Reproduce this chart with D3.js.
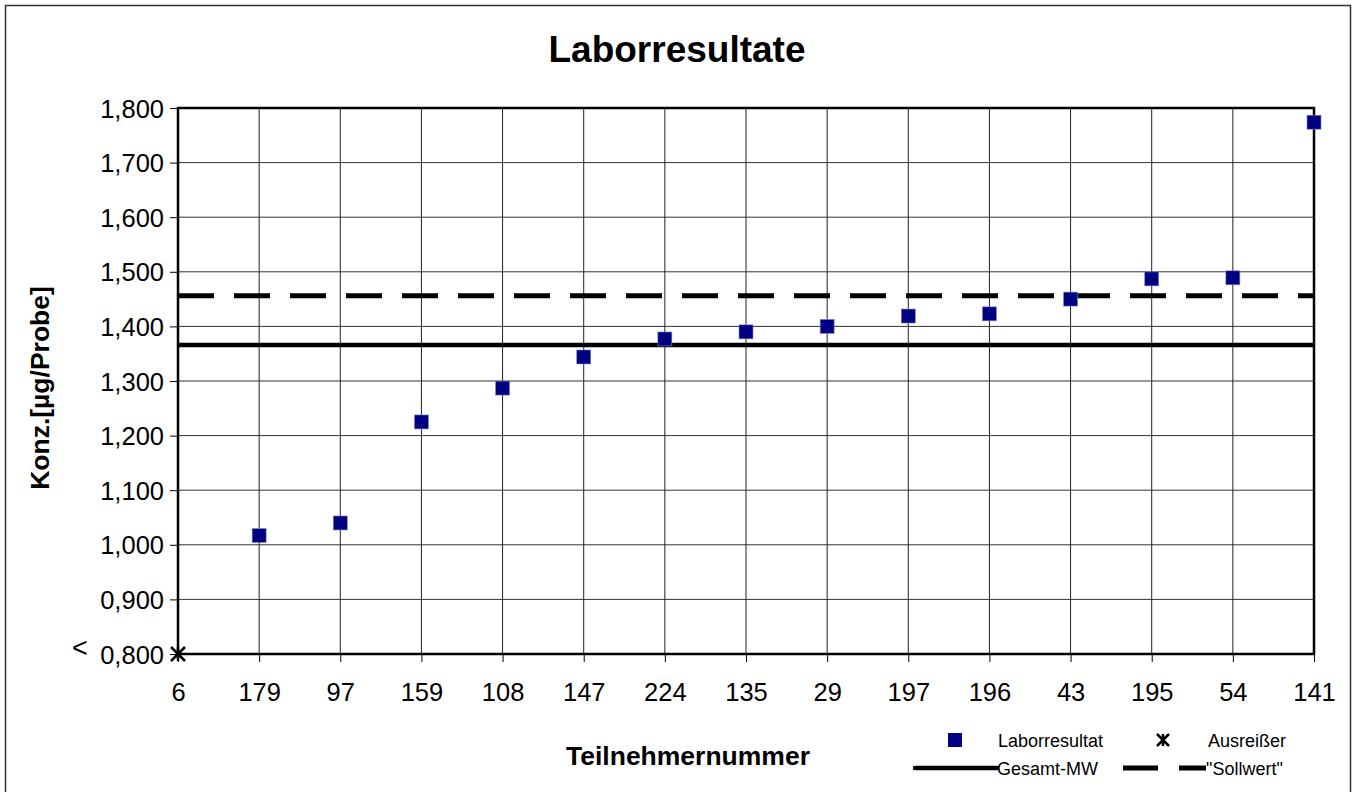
<!DOCTYPE html>
<html>
<head>
    <meta charset="utf-8">
    <title>Laborresultate</title>
    <script src="https://d3js.org/d3.v7.min.js"></script>
    <style>
        body { margin: 0; background: #fff; }
        text { font-family: "Liberation Sans", Arial, sans-serif; }
    </style>
</head>
<body>
<script>
    // data
    var teilnehmer = ["6", "179", "97", "159", "108", "147", "224", "135", "29", "197", "196", "43", "195", "54", "141"];
    var resultate = [null, 1.017, 1.040, 1.225, 1.287, 1.344, 1.377, 1.390, 1.400, 1.419, 1.423, 1.450, 1.487, 1.489, 1.774];
    var ausreisser = [{ id: "6", value: 0.8 }];
    var gesamtMW = 1.366;
    var sollwert = 1.456;
    var yTicks = [0.8, 0.9, 1.0, 1.1, 1.2, 1.3, 1.4, 1.5, 1.6, 1.7, 1.8];

    var width = 1356, height = 792;
    var margin = { top: 108, right: 42, bottom: 138, left: 178 };
    var plotW = width - margin.left - margin.right;
    var plotH = height - margin.top - margin.bottom;

    var svg = d3.select("body").append("svg")
        .attr("width", width)
        .attr("height", height);

    // outer frame
    svg.append("rect")
        .attr("x", 5.5).attr("y", 5.5)
        .attr("width", 1345).attr("height", 800)
        .style("fill", "none").style("stroke", "#333").style("stroke-width", 1.5);

    var x = d3.scalePoint().domain(teilnehmer).range([0, plotW]).padding(0);
    var y = d3.scaleLinear().domain([0.8, 1.8]).range([plotH, 0]);
    var fmt = function (d) { return d3.format(",.3f")(d).replace(".", ","); };

    var g = svg.append("g").attr("transform", "translate(" + margin.left + "," + margin.top + ")");

    // grid
    g.append("g").selectAll("line").data(yTicks).join("line")
        .attr("x1", 0).attr("x2", plotW)
        .attr("y1", d => y(d)).attr("y2", d => y(d))
        .style("stroke", "#333").style("stroke-width", 1);
    g.append("g").selectAll("line").data(teilnehmer).join("line")
        .attr("x1", d => x(d)).attr("x2", d => x(d))
        .attr("y1", 0).attr("y2", plotH)
        .style("stroke", "#222").style("stroke-width", 1);

    // plot border
    g.append("rect")
        .attr("x", 0).attr("y", 0).attr("width", plotW).attr("height", plotH)
        .style("fill", "none").style("stroke", "#000").style("stroke-width", 2.5);

    // axes
    var yAxis = g.append("g")
        .call(d3.axisLeft(y).tickValues(yTicks).tickFormat(fmt).tickSize(8).tickPadding(6));
    yAxis.select(".domain").remove();
    yAxis.selectAll("line").style("stroke", "#000");
    yAxis.selectAll("text").style("font-size", "25.5px").style("fill", "#000")
        .attr("dy", "0.36em");

    var xAxis = g.append("g").attr("transform", "translate(0," + plotH + ")")
        .call(d3.axisBottom(x).tickSize(8).tickPadding(21));
    xAxis.select(".domain").remove();
    xAxis.selectAll("line").style("stroke", "#000");
    xAxis.selectAll("text").style("font-size", "25.5px").style("fill", "#000");

    g.append("text")
        .attr("x", -106).attr("y", y(0.8) + 3)
        .style("font-size", "27px").text("<");

    // reference lines
    g.append("line")
        .attr("x1", 0).attr("x2", plotW)
        .attr("y1", y(gesamtMW)).attr("y2", y(gesamtMW))
        .style("stroke", "#000").style("stroke-width", 4.5);
    g.append("line")
        .attr("x1", 0).attr("x2", plotW)
        .attr("y1", y(sollwert)).attr("y2", y(sollwert))
        .style("stroke", "#000").style("stroke-width", 5)
        .style("stroke-dasharray", "36,20");

    // points
    var pts = teilnehmer.map((t, i) => ({ id: t, value: resultate[i] })).filter(d => d.value != null);
    g.append("g").selectAll("rect").data(pts).join("rect")
        .attr("x", d => x(d.id) - 7).attr("y", d => y(d.value) - 7)
        .attr("width", 14).attr("height", 14)
        .style("fill", "#000080").style("stroke", "#8888cc").style("stroke-width", 0.6);

    // outliers
    var star = function (sel, cx, cy, r) {
        sel.append("path")
            .attr("d", "M" + (cx - r) + "," + (cy - r) + "L" + (cx + r) + "," + (cy + r) +
                "M" + (cx - r) + "," + (cy + r) + "L" + (cx + r) + "," + (cy - r) +
                "M" + cx + "," + (cy - r) + "L" + cx + "," + (cy + r))
            .style("stroke", "#000").style("stroke-width", 2.5).style("fill", "none");
    };
    ausreisser.forEach(d => star(g, x(d.id), y(d.value), 7));

    // titles
    svg.append("text")
        .attr("x", 677).attr("y", 62).attr("text-anchor", "middle")
        .style("font-size", "37px").style("font-weight", "bold").text("Laborresultate");
    svg.append("text")
        .attr("transform", "translate(49,388) rotate(-90)").attr("text-anchor", "middle")
        .style("font-size", "26.5px").style("font-weight", "bold").text("Konz.[µg/Probe]");
    svg.append("text")
        .attr("x", 688).attr("y", 765).attr("text-anchor", "middle")
        .style("font-size", "26.5px").style("font-weight", "bold").text("Teilnehmernummer");

    // legend
    var lg = svg.append("g").style("font-size", "18px");
    lg.append("rect").attr("x", 948).attr("y", 733).attr("width", 14).attr("height", 14)
        .style("fill", "#000080");
    lg.append("text").attr("x", 998).attr("y", 747).text("Laborresultat");
    star(lg, 1163, 740, 6);
    lg.append("text").attr("x", 1208).attr("y", 747).text("Ausreißer");
    lg.append("line").attr("x1", 915).attr("x2", 997).attr("y1", 768).attr("y2", 768)
        .style("stroke", "#000").style("stroke-width", 4.5).style("stroke-linecap", "round");
    lg.append("text").attr("x", 997).attr("y", 775).text("Gesamt-MW");
    lg.append("line").attr("x1", 1123).attr("x2", 1206).attr("y1", 768).attr("y2", 768)
        .style("stroke", "#000").style("stroke-width", 5).style("stroke-dasharray", "35,21");
    lg.append("text").attr("x", 1206).attr("y", 775).text("\"Sollwert\"");
</script>
</body>
</html>
